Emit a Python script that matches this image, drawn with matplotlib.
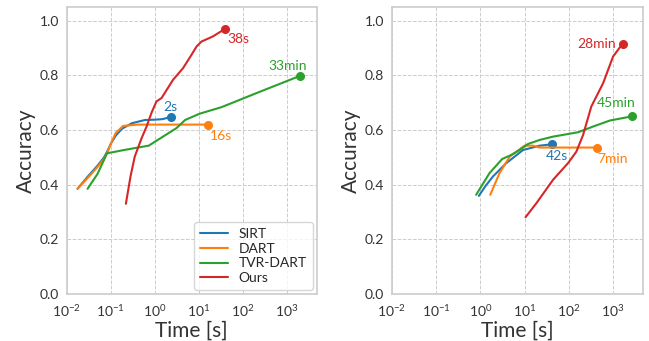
import matplotlib
matplotlib.use('Agg')
import matplotlib.pyplot as plt
import seaborn as sns

sns.set_style('whitegrid', {'grid.linestyle': '--', 'axes.edgecolor': '#cccccc'})
plt.rcParams['font.family'] = ['Lato', 'DejaVu Sans']

labels = ['SIRT', 'DART', 'TVR-DART', 'Ours']
colors = ['#1f77b4', '#ff7f0e', '#2ca02c', '#d62728']

# left panel
left_t = [
    [0.0175, 0.03, 0.05, 0.07, 0.085, 0.1, 0.13, 0.18, 0.3, 0.6, 1.0, 1.5, 2.3],
    [0.0175, 0.03, 0.05, 0.07, 0.085, 0.1, 0.13, 0.19, 0.4, 1.0, 4.0, 16.6],
    [0.0296, 0.05, 0.082, 0.2, 0.73, 1.5, 3.1, 4.9, 10.5, 33, 132, 347, 1970],
    [0.22, 0.28, 0.35, 0.5, 0.65, 0.85, 1.09, 1.42, 2.0, 2.6, 4.4, 6.5, 8.9, 11.5, 21, 39],
]
left_acc = [
    [0.385, 0.43, 0.47, 0.50, 0.525, 0.55, 0.58, 0.605, 0.625, 0.637, 0.638, 0.64, 0.648],
    [0.385, 0.425, 0.465, 0.495, 0.52, 0.55, 0.59, 0.615, 0.62, 0.62, 0.62, 0.62],
    [0.385, 0.44, 0.515, 0.527, 0.543, 0.575, 0.607, 0.637, 0.66, 0.684, 0.723, 0.75, 0.798],
    [0.33, 0.43, 0.503, 0.57, 0.613, 0.665, 0.705, 0.717, 0.755, 0.784, 0.827, 0.87, 0.906, 0.924, 0.943, 0.97],
]
left_notes = ['2s', '16s', '33min', '38s']

# right panel
right_t = [
    [0.92, 1.3, 1.92, 3.85, 9.2, 22, 42.4],
    [1.67, 2.7, 4.6, 10, 15.5, 22, 100, 445],
    [0.8, 1.6, 3.1, 5, 7.7, 11.9, 22, 44, 162, 355, 850, 2630],
    [10.5, 18.4, 44, 96, 148, 210, 322, 598, 1000, 1640],
]
right_acc = [
    [0.359, 0.395, 0.43, 0.479, 0.527, 0.543, 0.548],
    [0.363, 0.442, 0.503, 0.543, 0.543, 0.536, 0.536, 0.536],
    [0.363, 0.442, 0.494, 0.509, 0.527, 0.549, 0.564, 0.576, 0.592, 0.613, 0.635, 0.65],
    [0.281, 0.332, 0.418, 0.479, 0.521, 0.582, 0.686, 0.772, 0.869, 0.916],
]
right_notes = ['42s', '7min', '45min', '28min']

fig = plt.figure(figsize=(6.49, 3.41), dpi=100)
ax1 = fig.add_axes([0.103, 0.138, 0.385, 0.841])
ax2 = fig.add_axes([0.604, 0.138, 0.387, 0.841])

# (dx, dy, ha, va) offsets in points for end labels
left_off = [(0, 3, 'center', 'bottom'), (1, -4, 'left', 'top'),
            (-9, 3, 'center', 'bottom'), (2, -3, 'left', 'top')]
right_off = [(3, -4, 'center', 'top'), (0, -4, 'left', 'top'),
             (-11, 5, 'center', 'bottom'), (-5, 0, 'right', 'center')]

for ax, ts, accs, notes, offs in [(ax1, left_t, left_acc, left_notes, left_off),
                                  (ax2, right_t, right_acc, right_notes, right_off)]:
    for t, a, lab, c, note, off in zip(ts, accs, labels, colors, notes, offs):
        ax.plot(t, a, color=c, lw=1.5, label=lab)
        ax.plot(t[-1], a[-1], 'o', color=c, ms=5.5)
        ax.annotate(note, (t[-1], a[-1]), xytext=off[:2], textcoords='offset points',
                    ha=off[2], va=off[3], color=c, fontsize=10)
    ax.set_xscale('log')
    ax.set_xlim(1e-2, 4800)
    ax.set_ylim(0, 1.05)
    ax.set_xticks([1e-2, 1e-1, 1e0, 1e1, 1e2, 1e3])
    ax.minorticks_off()
    ax.set_yticks([0, 0.2, 0.4, 0.6, 0.8, 1.0])
    ax.tick_params(axis='x', labelsize=10, pad=3, colors='#333333')
    ax.tick_params(axis='y', labelsize=10, pad=2, colors='#333333')
    ax.set_xlabel('Time [s]', fontsize=15, labelpad=1, color='#333333')
    ax.set_ylabel('Accuracy', fontsize=15, labelpad=3, color='#333333')
    ax.grid(True, color='#cccccc', lw=0.7)
    for s in ax.spines.values():
        s.set_color('#cccccc')
        s.set_linewidth(1.2)

ax1.legend(loc='lower right', fontsize=10, handlelength=2, borderaxespad=0.3,
           labelspacing=0.2, frameon=True)

fig.savefig('out.png', dpi=100)
